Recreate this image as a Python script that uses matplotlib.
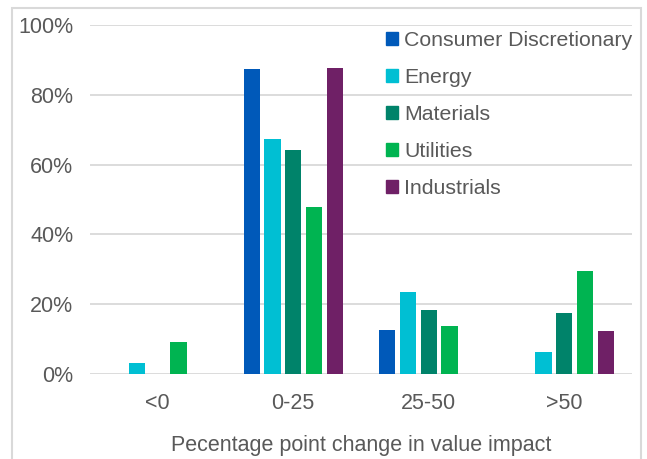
import numpy as np
import matplotlib
matplotlib.use("Agg")
import matplotlib.pyplot as plt
from matplotlib.patches import Rectangle, Patch

plt.rcParams["font.family"] = ["Liberation Sans", "DejaVu Sans"]

categories = ["<0", "0-25", "25-50", ">50"]
sectors = ["Consumer Discretionary", "Energy", "Materials", "Utilities", "Industrials"]
consumer_disc = [0.0, 87.4, 12.5, 0.0]
energy = [3.2, 67.2, 23.5, 6.2]
materials = [0.0, 64.1, 18.2, 17.6]
utilities = [9.1, 47.8, 13.7, 29.6]
industrials = [0.0, 87.7, 0.0, 12.2]
colors = ["#0059B9", "#00BFD3", "#00836A", "#00B451", "#6F2066"]

series = [consumer_disc, energy, materials, utilities, industrials]
text_color = "#595959"
grid_color = "#D9D9D9"

fig = plt.figure(figsize=(6.47, 4.59), dpi=100)
ax = fig.add_axes([90 / 647, 85 / 459, 542 / 647, 349 / 459])

x = np.arange(len(categories))
step = 0.153
width = 0.12
for i, (vals, name, col) in enumerate(zip(series, sectors, colors)):
    ax.bar(x + (i - 2) * step, vals, width=width, color=col, label=name, zorder=3)

ax.set_xlim(-0.5, len(categories) - 0.5)
ax.set_ylim(0, 100)
ax.set_yticks(range(0, 101, 20))
ax.set_yticklabels([f"{v}%" for v in range(0, 101, 20)])
ax.set_xticks(x)
ax.set_xticklabels(categories)
ax.grid(axis="y", color=grid_color, linewidth=1.3, zorder=0)
ax.set_axisbelow(True)
for s in ax.spines.values():
    s.set_visible(False)
ax.tick_params(axis="both", length=0, labelsize=15.5, colors=text_color)
ax.tick_params(axis="y", pad=12)
ax.tick_params(axis="x", pad=14)
ax.set_xlabel("Pecentage point change in value impact", fontsize=15.5,
              color=text_color, labelpad=15)

handles = [Patch(color=c) for c in colors]
leg = fig.legend(handles, sectors, loc="upper left",
                 bbox_to_anchor=(386 / 647, 1 - 31 / 459),
                 frameon=False, fontsize=15.3, handlelength=0.55, handleheight=0.55,
                 handletextpad=0.3, labelspacing=0.85, borderpad=0, borderaxespad=0)
for t in leg.get_texts():
    t.set_color(text_color)

# light outer frame of the chart
fig.patches.append(Rectangle((12 / 647, -0.05), 629 / 647, 1.05 - 8 / 459,
                             transform=fig.transFigure, fill=False,
                             edgecolor=grid_color, linewidth=1.5))

fig.savefig("out.png", dpi=100)
